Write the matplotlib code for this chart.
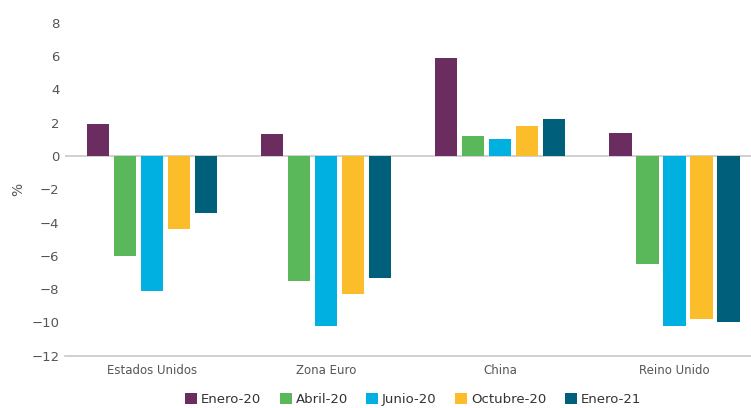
import numpy as np
import matplotlib.pyplot as plt

categories = ["Estados Unidos", "Zona Euro", "China", "Reino Unido"]
series = ["Enero-20", "Abril-20", "Junio-20", "Octubre-20", "Enero-21"]
enero20 = [1.9, 1.3, 5.9, 1.4]
abril20 = [-6.0, -7.5, 1.2, -6.5]
junio20 = [-8.1, -10.2, 1.0, -10.2]
octubre20 = [-4.4, -8.3, 1.8, -9.8]
enero21 = [-3.4, -7.35, 2.2, -10.0]
colors = ["#6B2C5F", "#5BB85A", "#00B0E0", "#FBBE2A", "#005F7A"]

values = [enero20, abril20, junio20, octubre20, enero21]

fig = plt.figure(figsize=(7.51, 4.08), dpi=100)
ax = fig.add_axes([0.0866, 0.128, 0.9134, 0.816])

x = np.arange(len(categories))
pitch = 0.155
width = 0.128
for i, (name, vals) in enumerate(zip(series, values)):
    offs = (i - 2) * pitch
    ax.bar(x + offs, vals, width=width, color=colors[i], label=name, zorder=3)

ax.axhline(0, color="#c8c8c8", linewidth=1.2, zorder=2)
ax.set_xlim(-0.5, 3.44)
ax.set_ylim(-12, 8)
ax.set_yticks(range(-12, 9, 2))
ax.set_yticklabels([str(v).replace("-", "\u2212") for v in range(-12, 9, 2)])
ax.set_xticks(x)
ax.set_xticklabels(categories)
ax.tick_params(axis="both", length=0, colors="#555555")
ax.tick_params(axis="x", pad=6, labelsize=8.5)
ax.tick_params(axis="y", pad=4, labelsize=9.5)
for s in ["top", "right", "left"]:
    ax.spines[s].set_visible(False)
ax.spines["bottom"].set_color("#c8c8c8")
ax.spines["bottom"].set_linewidth(1.2)
ax.set_ylabel("%", color="#555555", fontsize=10)
ax.yaxis.set_label_coords(-0.058, 0.5)

fig.legend(loc="lower center", bbox_to_anchor=(0.55, -0.025), ncol=5,
           frameon=False, fontsize=9.5, handlelength=0.9, handleheight=0.9,
           handletextpad=0.3, columnspacing=1.4, labelcolor="#333333")

fig.savefig("out.png", dpi=100)
